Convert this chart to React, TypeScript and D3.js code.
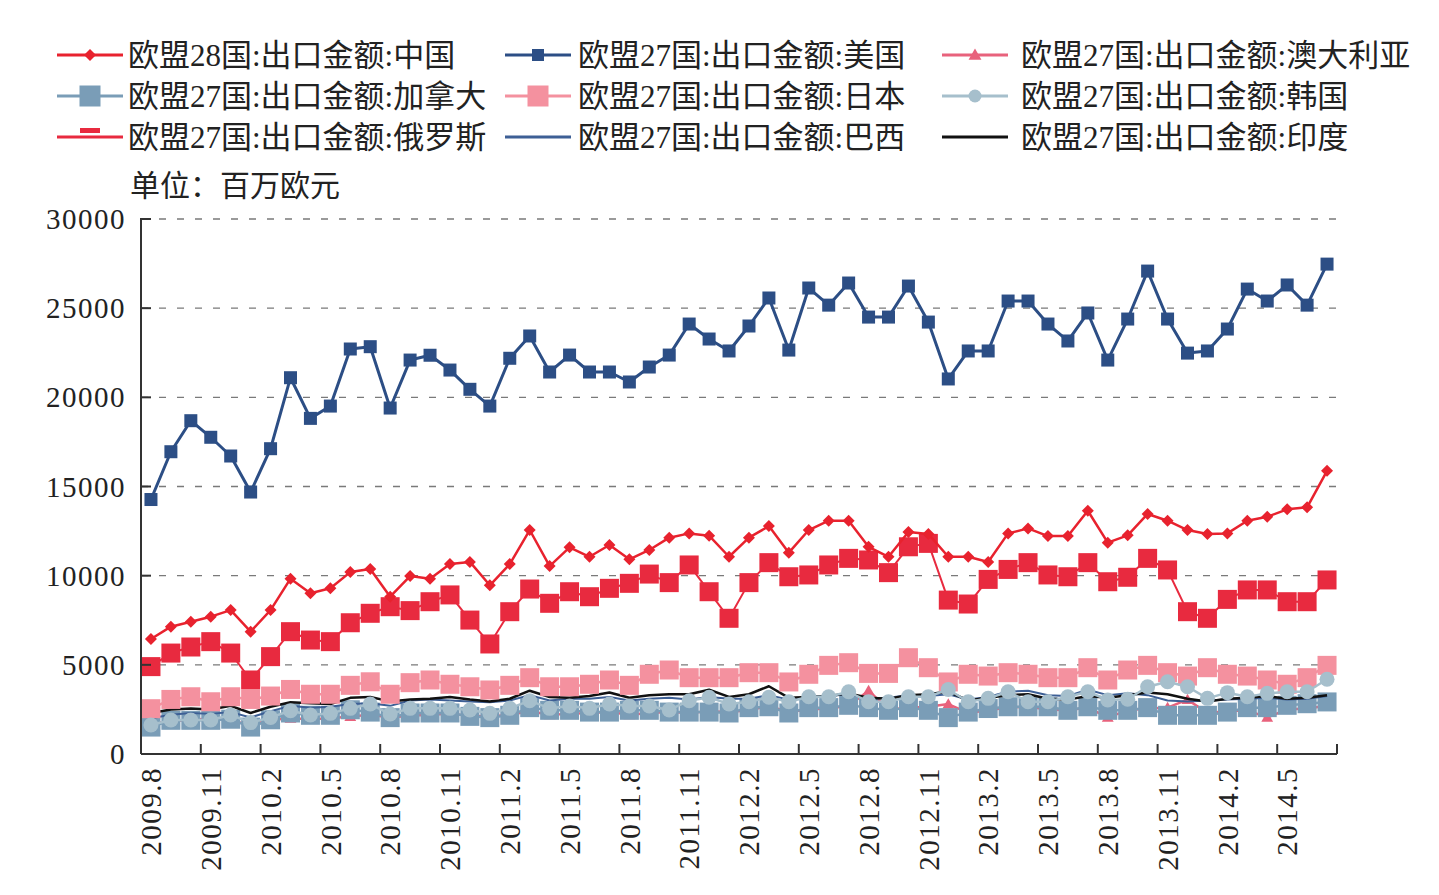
import React, { useEffect, useRef } from "react";
import * as d3 from "d3";

// monthly categories 2009.8 - 2014.7
const months = [
  "2009.8", "2009.9", "2009.10", "2009.11", "2009.12",
  "2010.1", "2010.2", "2010.3", "2010.4", "2010.5", "2010.6", "2010.7", "2010.8", "2010.9", "2010.10", "2010.11", "2010.12",
  "2011.1", "2011.2", "2011.3", "2011.4", "2011.5", "2011.6", "2011.7", "2011.8", "2011.9", "2011.10", "2011.11", "2011.12",
  "2012.1", "2012.2", "2012.3", "2012.4", "2012.5", "2012.6", "2012.7", "2012.8", "2012.9", "2012.10", "2012.11", "2012.12",
  "2013.1", "2013.2", "2013.3", "2013.4", "2013.5", "2013.6", "2013.7", "2013.8", "2013.9", "2013.10", "2013.11", "2013.12",
  "2014.1", "2014.2", "2014.3", "2014.4", "2014.5", "2014.6", "2014.7",
];

const yTicks = [0, 5000, 10000, 15000, 20000, 25000, 30000];

const china = [
  6450, 7140, 7420, 7700, 8070, 6860, 8070, 9830, 9010, 9290,
  10200, 10370, 8820, 9980, 9830, 10650, 10770, 9460, 10650, 12560,
  10540, 11590, 11060, 11720, 10920, 11440, 12130, 12370, 12240, 11060,
  12130, 12780, 11290, 12560, 13080, 13080, 11620, 11060, 12450, 12340,
  11060, 11060, 10770, 12370, 12650, 12220, 12220, 13640, 11850, 12260,
  13460, 13080, 12560, 12340, 12370, 13080, 13300, 13720, 13830, 15880,
];

const usa = [
  14270, 16950, 18690, 17760, 16710, 14690, 17120, 21100, 18820, 19510,
  22710, 22840, 19400, 22090, 22360, 21530, 20450, 19510, 22190, 23440,
  21420, 22370, 21420, 21420, 20860, 21700, 22370, 24110, 23270, 22600,
  24000, 25570, 22650, 26130, 25170, 26410, 24500, 24500, 26240, 24220,
  21030, 22600, 22600, 25400, 25400, 24110, 23160, 24730, 22090, 24390,
  27080, 24390, 22480, 22600, 23830, 26070, 25400, 26300, 25170, 27470,
];

const australia = [
  1700, 1850, 1900, 2000, 1850, 1650, 1900, 2000, 1950, 2000,
  2100, 2200, 2050, 2150, 2200, 2250, 2150, 2100, 2200, 2400,
  2200, 2250, 2300, 2350, 2200, 2300, 2350, 2300, 2400, 2350,
  2450, 2700, 2350, 2500, 2550, 2700, 3550, 2500, 2600, 2650,
  2800, 2300, 2450, 2600, 2650, 2500, 2450, 2600, 2050, 2450,
  2550, 2600, 3050, 2300, 2400, 2450, 2050, 2500, 2550, 2700,
];

const canada = [
  1510, 1890, 1890, 1890, 1950, 1510, 1920, 2300, 2170, 2170,
  2480, 2350, 2040, 2300, 2300, 2300, 2110, 2040, 2170, 2600,
  2450, 2450, 2350, 2350, 2450, 2450, 2350, 2350, 2350, 2300,
  2600, 2650, 2300, 2600, 2600, 2730, 2600, 2450, 2600, 2450,
  2040, 2350, 2550, 2650, 2650, 2650, 2450, 2650, 2450, 2450,
  2600, 2170, 2170, 2170, 2350, 2600, 2600, 2730, 2820, 2920,
];

const japan = [
  2540, 3060, 3210, 2930, 3210, 3060, 3250, 3620, 3350, 3350,
  3850, 4050, 3350, 4000, 4150, 3910, 3770, 3590, 3850, 4280,
  3770, 3770, 3910, 4150, 3850, 4470, 4710, 4280, 4280, 4280,
  4560, 4560, 4040, 4470, 4970, 5120, 4520, 4520, 5400, 4840,
  4040, 4470, 4370, 4560, 4470, 4280, 4280, 4840, 4150, 4710,
  4970, 4560, 4370, 4840, 4470, 4370, 4150, 3910, 4280, 4970,
];

const korea = [
  1630, 1910, 1910, 1910, 2190, 1760, 2050, 2430, 2190, 2280,
  2560, 2800, 2240, 2560, 2560, 2560, 2470, 2280, 2560, 2990,
  2560, 2690, 2560, 2800, 2690, 2690, 2470, 2990, 3180, 2800,
  2930, 3180, 2930, 3210, 3210, 3490, 2930, 2930, 3210, 3210,
  3620, 2930, 3120, 3490, 2930, 2930, 3210, 3490, 3030, 3070,
  3770, 4050, 3770, 3120, 3440, 3210, 3400, 3490, 3490, 4190,
];

const russia = [
  4900, 5660, 6000, 6300, 5660, 4150, 5460, 6860, 6390, 6300,
  7360, 7890, 8260, 8040, 8540, 8920, 7510, 6170, 7980, 9250,
  8450, 9100, 8820, 9290, 9570, 10090, 9610, 10600, 9100, 7610,
  9610, 10730, 9940, 10040, 10600, 10970, 10880, 10170, 11620, 11810,
  8630, 8410, 9790, 10350, 10730, 10040, 9940, 10730, 9660, 9910,
  10970, 10320, 7980, 7610, 8670, 9200, 9200, 8540, 8540, 9760,
];

const brazil = [
  2000, 2200, 2300, 2250, 2350, 2050, 2400, 2700, 2600, 2650,
  2800, 2850, 2700, 3000, 3050, 3000, 2950, 2900, 3000, 3300,
  3000, 3100, 3100, 3200, 3000, 3100, 3150, 3050, 3200, 3100,
  3100, 3300, 3050, 3200, 3250, 3350, 3100, 3150, 3300, 3250,
  3350, 3050, 3200, 3500, 3550, 3300, 3250, 3600, 3300, 3400,
  3300, 3000, 2950, 3000, 3050, 3100, 3150, 3050, 3100, 3250,
];

const india = [
  2300, 2500, 2550, 2500, 2700, 2300, 2650, 2900, 2850, 2800,
  3150, 3200, 2950, 3050, 3100, 3200, 3050, 2950, 3100, 3550,
  3200, 3150, 3250, 3450, 3150, 3300, 3350, 3350, 3600, 3200,
  3350, 3800, 3150, 3200, 3250, 3400, 3150, 3100, 3300, 3350,
  3500, 3000, 3150, 3300, 3350, 3100, 3050, 3250, 3150, 3300,
  3450, 3350, 3100, 2950, 3100, 3150, 3250, 3100, 3150, 3300,
];

type Marker = "diamond" | "square" | "triangle" | "circle" | "none";

interface Series {
  name: string;
  values: number[];
  color: string;
  width: number;
  marker: Marker;
  size: number; // marker edge in the plot
  legendSize: number;
}

// legend order (row by row)
const series: Series[] = [
  { name: "欧盟28国:出口金额:中国", values: china, color: "#e8222e", width: 2.5, marker: "diamond", size: 12, legendSize: 12 },
  { name: "欧盟27国:出口金额:美国", values: usa, color: "#2c4e85", width: 3, marker: "square", size: 13, legendSize: 12 },
  { name: "欧盟27国:出口金额:澳大利亚", values: australia, color: "#e8627c", width: 2.5, marker: "triangle", size: 11, legendSize: 12 },
  { name: "欧盟27国:出口金额:加拿大", values: canada, color: "#7a9db7", width: 2.5, marker: "square", size: 19, legendSize: 21 },
  { name: "欧盟27国:出口金额:日本", values: japan, color: "#f4919f", width: 2.5, marker: "square", size: 19, legendSize: 21 },
  { name: "欧盟27国:出口金额:韩国", values: korea, color: "#a6bfcc", width: 2.5, marker: "circle", size: 15, legendSize: 13 },
  { name: "欧盟27国:出口金额:俄罗斯", values: russia, color: "#e82a3f", width: 2, marker: "square", size: 19, legendSize: 0 },
  { name: "欧盟27国:出口金额:巴西", values: brazil, color: "#3d5f95", width: 2, marker: "none", size: 0, legendSize: 0 },
  { name: "欧盟27国:出口金额:印度", values: india, color: "#111111", width: 2.5, marker: "none", size: 0, legendSize: 0 },
];

// bottom to top
const drawOrder = [2, 3, 7, 8, 4, 5, 6, 0, 1];

const FONT = '"Liberation Serif", "Noto Sans CJK SC", serif';

function drawMarker(g: any, type: Marker, x: number, y: number, s: number, color: string) {
  if (type === "square") {
    g.append("rect").attr("x", x - s / 2).attr("y", y - s / 2).attr("width", s).attr("height", s).attr("fill", color);
  } else if (type === "diamond") {
    const r = s / 2;
    g.append("path")
      .attr("d", `M${x},${y - r}L${x + r},${y}L${x},${y + r}L${x - r},${y}Z`)
      .attr("fill", color);
  } else if (type === "triangle") {
    g.append("path")
      .attr("d", d3.symbol().type(d3.symbolTriangle).size(s * s * 0.5)())
      .attr("transform", `translate(${x},${y + 1})`)
      .attr("fill", color);
  } else if (type === "circle") {
    g.append("circle").attr("cx", x).attr("cy", y).attr("r", s / 2).attr("fill", color);
  }
}

const App = () => {
  const svgRef = useRef<SVGSVGElement>(null);

  useEffect(() => {
    document.body.style.margin = "0";
    const svg = d3.select(svgRef.current);
    svg.selectAll("*").remove();

    const left = 141, right = 1337, top = 219, bottom = 754;
    const x = d3.scaleBand<string>().domain(months).range([left, right]);
    const xc = (i: number) => (x(months[i]) as number) + x.bandwidth() / 2;
    const y = d3.scaleLinear([0, 30000], [bottom, top]);

    // grid
    svg.append("g")
      .selectAll("line")
      .data(yTicks.filter((t) => t > 0))
      .join("line")
      .attr("x1", left)
      .attr("x2", right)
      .attr("y1", (d) => y(d))
      .attr("y2", (d) => y(d))
      .attr("stroke", "#7a7a7a")
      .attr("stroke-width", 1.4)
      .attr("stroke-dasharray", "7,11");

    // series
    const plot = svg.append("g");
    drawOrder.forEach((k) => {
      const s = series[k];
      const line = d3.line<number>().x((_, i) => xc(i)).y((d) => y(d));
      plot.append("path")
        .datum(s.values)
        .attr("fill", "none")
        .attr("stroke", s.color)
        .attr("stroke-width", s.width)
        .attr("stroke-linejoin", "round")
        .attr("d", line);
      const mg = plot.append("g");
      s.values.forEach((v, i) => drawMarker(mg, s.marker, xc(i), y(v), s.size, s.color));
    });

    // axes
    const axis = svg.append("g").attr("stroke", "#333").attr("stroke-width", 2);
    axis.append("line").attr("x1", left).attr("x2", left).attr("y1", top - 1).attr("y2", bottom);
    axis.append("line").attr("x1", left).attr("x2", right).attr("y1", bottom).attr("y2", bottom);
    yTicks.forEach((t) => {
      axis.append("line").attr("x1", left).attr("x2", left + 10).attr("y1", y(t)).attr("y2", y(t));
    });
    const xTickPos = months.map((m) => x(m) as number).filter((_, i) => i % 3 === 0).concat([right]);
    xTickPos.forEach((p) => {
      axis.append("line").attr("x1", p).attr("x2", p).attr("y1", bottom).attr("y2", bottom - 10);
    });

    svg.append("g")
      .selectAll("text")
      .data(yTicks)
      .join("text")
      .attr("x", 126)
      .attr("y", (d) => y(d))
      .attr("dy", "0.35em")
      .attr("text-anchor", "end")
      .attr("font-family", FONT)
      .attr("font-size", 29)
      .attr("letter-spacing", 1.5)
      .attr("fill", "#222")
      .text((d) => String(d));

    svg.append("g")
      .selectAll("text")
      .data(months.filter((_, i) => i % 3 === 0))
      .join("text")
      .attr("transform", (d) => `translate(${(x(d) as number) + x.bandwidth() / 2},767) rotate(-90)`)
      .attr("dy", "0.35em")
      .attr("text-anchor", "end")
      .attr("font-family", FONT)
      .attr("font-size", 29)
      .attr("letter-spacing", 1.5)
      .attr("fill", "#222")
      .text((d) => d);

    // legend
    const colX = [57, 505, 942];
    const textX = [128, 578, 1021];
    const rowY = [55, 96, 137];
    series.forEach((s, k) => {
      const col = k % 3;
      const lx = colX[col];
      const ly = rowY[Math.floor(k / 3)];
      const g = svg.append("g");
      g.append("line")
        .attr("x1", lx).attr("x2", lx + 66)
        .attr("y1", ly).attr("y2", ly)
        .attr("stroke", s.color).attr("stroke-width", 3);
      if (s.name.endsWith("俄罗斯")) {
        // dash marker
        g.append("rect").attr("x", lx + 23).attr("y", ly - 9).attr("width", 20).attr("height", 5).attr("fill", s.color);
      } else {
        drawMarker(g, s.marker, lx + 33, ly, s.legendSize, s.color);
      }
      g.append("text")
        .attr("x", textX[col])
        .attr("y", ly)
        .attr("dy", "0.36em")
        .attr("font-family", FONT)
        .attr("font-size", 31)
        .attr("fill", "#222")
        .text(s.name);
    });

    svg.append("text")
      .attr("x", 130)
      .attr("y", 185)
      .attr("dy", "0.36em")
      .attr("font-family", FONT)
      .attr("font-size", 30)
      .attr("fill", "#222")
      .text("单位：百万欧元");
  }, []);

  return <svg ref={svgRef} width={1439} height={895} style={{ display: "block", background: "#fff" }} />;
};

export default App;
